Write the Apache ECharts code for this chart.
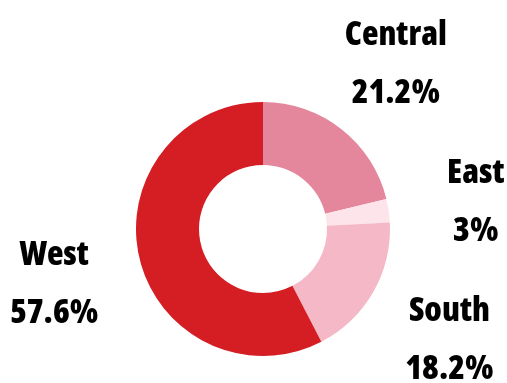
<!DOCTYPE html>
<html>
<head>
<meta charset="utf-8">
<script src="https://cdn.jsdelivr.net/npm/echarts@6/dist/echarts.min.js"></script>
<style>
  html, body { margin: 0; padding: 0; background: #fff; }
  #chart { width: 507px; height: 383px; }
</style>
</head>
<body>
<div id="chart"></div>
<script>
// Regional share of total, in percent (clockwise from 12 o'clock)
const regions = ['Central', 'East', 'South', 'West'];
const shares = [21.2, 3, 18.2, 57.6];
const sliceColors = ['#e4869c', '#fde3ea', '#f4b8c6', '#d41e24'];

const chart = echarts.init(document.getElementById('chart'), null, { renderer: 'canvas' });

chart.setOption({
  animation: false,
  series: [{
    type: 'pie',
    center: [263, 229],
    radius: [64, 127],
    startAngle: 90,
    clockwise: true,
    avoidLabelOverlap: false,
    data: regions.map((name, i) => ({
      name: name,
      value: shares[i],
      itemStyle: { color: sliceColors[i] }
    })),
    label: {
      show: true,
      position: 'outside',
      formatter: p => p.name + '\n' + p.value + '%',
      fontFamily: '"Open Sans", sans-serif',
      // heavy weight, condensed width
      fontWeight: '800 condensed',
      fontSize: 34,
      lineHeight: 58,
      color: '#000',
      distanceToLabelLine: 0
    },
    labelLine: { show: false, length: 88, length2: 0 },
    labelLayout: () => ({ align: 'center', dy: 4 }),
    emphasis: { disabled: true }
  }]
});
</script>
</body>
</html>
